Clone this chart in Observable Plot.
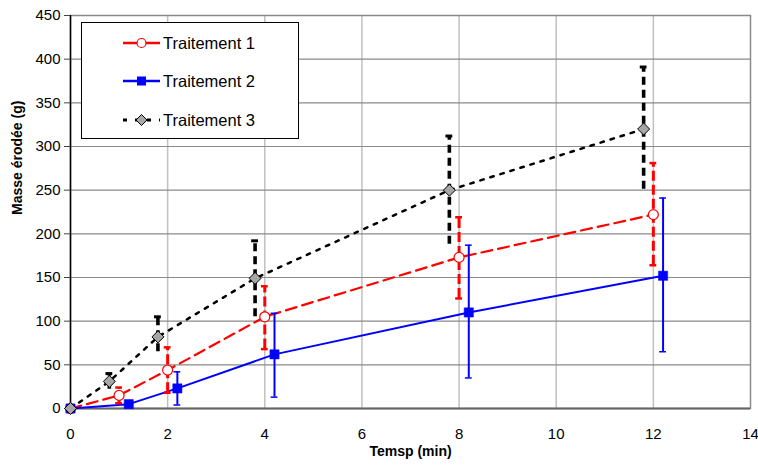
<!DOCTYPE html>
<html>
<head>
<meta charset="utf-8">
<script src="https://cdn.jsdelivr.net/npm/d3@7"></script>
<script src="https://cdn.jsdelivr.net/npm/@observablehq/plot@0.6"></script>
<style>
body { margin: 0; background: #fff; }
#chart { position: relative; width: 758px; height: 465px; }
</style>
</head>
<body>
<div id="chart"></div>
<script>
// Traitement 1
const x1 = [0, 1, 2, 4, 8, 12];
const y1 = [0, 15, 44, 105, 173, 222];
const lo1 = [0, 6, 18, 68, 126, 164];
const hi1 = [0, 24, 70, 140, 219, 281];
// Traitement 2
const x2 = [0, 1.2, 2.2, 4.2, 8.2, 12.2];
const y2 = [0, 5, 23, 62, 110, 152];
const lo2 = [0, 5, 4, 13, 35, 65];
const hi2 = [0, 5, 42, 109, 187, 241];
// Traitement 3
const x3 = [0, 0.8, 1.8, 3.8, 7.8, 11.8];
const y3 = [0, 31, 82, 149, 250, 320];
const lo3 = [0, 22, 65, 105, 188, 251];
const hi3 = [0, 40, 105, 192, 312, 391];

const seriesNames = ["Traitement 1", "Traitement 2", "Traitement 3"];
const xTicks = [0, 2, 4, 6, 8, 10, 12, 14];
const yTicks = [0, 50, 100, 150, 200, 250, 300, 350, 400, 450];
const xTitle = "Temsp (min)";
const yTitle = "Masse érodée (g)";

const mk = (xs, ys, los, his) => xs.map((x, i) => ({x, y: ys[i], lo: los[i], hi: his[i]}));
const s1 = mk(x1, y1, lo1, hi1);
const s2 = mk(x2, y2, lo2, hi2);
const s3 = mk(x3, y3, lo3, hi3);
const e1 = s1.filter(d => d.hi > d.lo);
const e2 = s2.filter(d => d.hi > d.lo);
const e3 = s3.filter(d => d.hi > d.lo);
const capW = 0.07;

const svg = Plot.plot({
  width: 758,
  height: 465,
  marginLeft: 70,
  marginRight: 8,
  marginTop: 15,
  marginBottom: 57,
  style: {fontFamily: "'Liberation Sans', Arial, sans-serif", fontSize: "15px", color: "#000", background: "#fff"},
  x: {domain: [0, 14]},
  y: {domain: [0, 450]},
  marks: [
    Plot.gridX(xTicks.filter(t => t > 0 && t < 14), {stroke: "#c0c0c0", strokeOpacity: 1, strokeWidth: 1.5}),
    Plot.gridY(yTicks.filter(t => t > 0), {stroke: "#8a8a8a", strokeOpacity: 1, strokeWidth: 1.2}),
    Plot.frame({stroke: "#8a8a8a", strokeWidth: 1.5}),
    Plot.ruleY([0], {stroke: "#666", strokeWidth: 2}),
    Plot.ruleX([0], {stroke: "#000", strokeWidth: 1.5}),
    Plot.axisY({ticks: yTicks, tickSize: 6, tickPadding: 4, label: null, fontSize: 15, stroke: "#444"}),
    Plot.axisX({ticks: xTicks, tickSize: 0, tickPadding: 20, label: null, fontSize: 15}),
    Plot.text([xTitle], {frameAnchor: "bottom", dy: 47, fontWeight: "bold", fontSize: 14}),
    Plot.text([yTitle], {frameAnchor: "left", dx: -53, dy: 3, rotate: -90, fontWeight: "bold", fontSize: 14}),
    // lines
    Plot.line(s1, {x: "x", y: "y", stroke: "#ff0000", strokeWidth: 2.2, strokeDasharray: "11,6"}),
    Plot.line(s2, {x: "x", y: "y", stroke: "#0000ff", strokeWidth: 2}),
    Plot.line(s3, {x: "x", y: "y", stroke: "#000", strokeWidth: 2.5, strokeDasharray: "3.5,7"}),
    // error bars T1
    Plot.ruleX(e1, {x: "x", y1: "lo", y2: "hi", stroke: "#ff0000", strokeWidth: 3, strokeDasharray: "10,4"}),
    Plot.ruleY(e1, {y: "hi", x1: d => d.x - capW, x2: d => d.x + capW, stroke: "#ff0000", strokeWidth: 2.5}),
    Plot.ruleY(e1, {y: "lo", x1: d => d.x - capW, x2: d => d.x + capW, stroke: "#ff0000", strokeWidth: 2.5}),
    // error bars T2
    Plot.ruleX(e2, {x: "x", y1: "lo", y2: "hi", stroke: "#0000ff", strokeWidth: 2}),
    Plot.ruleY(e2, {y: "hi", x1: d => d.x - capW, x2: d => d.x + capW, stroke: "#0000ff", strokeWidth: 1.5}),
    Plot.ruleY(e2, {y: "lo", x1: d => d.x - capW, x2: d => d.x + capW, stroke: "#0000ff", strokeWidth: 1.5}),
    // error bars T3
    Plot.ruleX(e3, {x: "x", y1: "lo", y2: "hi", stroke: "#000", strokeWidth: 3.6, strokeDasharray: "8,5"}),
    Plot.ruleY(e3, {y: "hi", x1: d => d.x - capW, x2: d => d.x + capW, stroke: "#000", strokeWidth: 3}),
    // markers
    Plot.dot(s1, {x: "x", y: "y", r: 5, fill: "#fff", stroke: "#ff0000", strokeWidth: 1.2}),
    Plot.dot(s2, {x: "x", y: "y", symbol: "square", r: 5.2, fill: "#0000ff", stroke: "#0000ff", strokeWidth: 0.5}),
    Plot.dot(s3, {x: "x", y: "y", symbol: "diamond2", r: 5.4, fill: "#a6a6a6", stroke: "#000", strokeWidth: 1})
  ]
});

// Legend
const g = d3.select(svg).append("g").attr("class", "legend").attr("text-anchor", "start");
g.append("rect").attr("x", 81.5).attr("y", 22.5).attr("width", 217).attr("height", 116)
  .attr("fill", "#fff").attr("stroke", "#000").attr("stroke-width", 1);
const rows = [
  {name: seriesNames[0], y: 43, stroke: "#ff0000", dash: null, w: 2.5},
  {name: seriesNames[1], y: 81, stroke: "#0000ff", dash: null, w: 2.5},
  {name: seriesNames[2], y: 120, stroke: "#000", dash: "4,8", w: 3}
];
rows.forEach((r, i) => {
  g.append("line").attr("x1", 123).attr("x2", 160).attr("y1", r.y).attr("y2", r.y)
    .attr("stroke", r.stroke).attr("stroke-width", r.w).attr("stroke-dasharray", r.dash);
  if (i === 0) {
    g.append("circle").attr("cx", 141.5).attr("cy", r.y).attr("r", 4.5).attr("fill", "#fff").attr("stroke", "#ff0000").attr("stroke-width", 1.2);
  } else if (i === 1) {
    g.append("rect").attr("x", 137).attr("y", r.y - 4.5).attr("width", 9).attr("height", 9).attr("fill", "#0000ff");
  } else {
    g.append("path").attr("d", `M141.5,${r.y - 5.5}L147,${r.y}L141.5,${r.y + 5.5}L136,${r.y}Z`).attr("fill", "#a6a6a6").attr("stroke", "#000").attr("stroke-width", 1);
  }
  g.append("text").attr("x", 163).attr("y", r.y).attr("dy", "0.35em").attr("text-anchor", "start")
    .attr("font-size", 16.5).attr("fill", "#000").text(r.name);
});

document.getElementById("chart").appendChild(svg);
</script>
</body>
</html>
